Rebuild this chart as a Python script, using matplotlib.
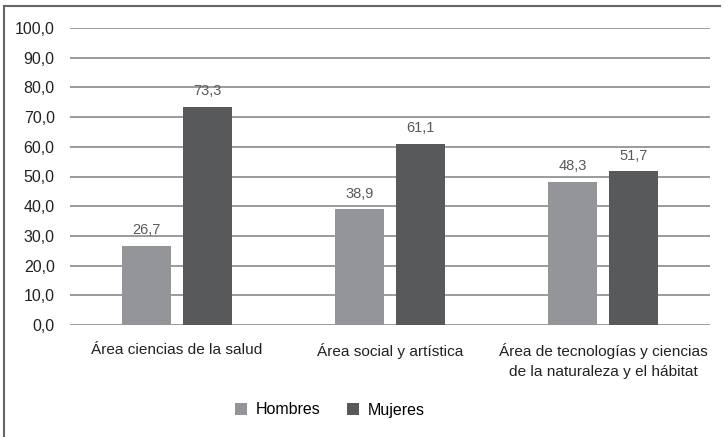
import matplotlib
matplotlib.use("Agg")
import matplotlib.pyplot as plt
import numpy as np
from matplotlib.lines import Line2D

categories = ["Área ciencias de la salud", "Área social y artística",
              "Área de tecnologías y ciencias\nde la naturaleza y el hábitat"]
hombres = [26.7, 38.9, 48.3]
mujeres = [73.3, 61.1, 51.7]
series_names = ["Hombres", "Mujeres"]
yticks = np.arange(0, 101, 10)

fam = ["Liberation Sans Narrow", "Liberation Sans", "DejaVu Sans"]
plt.rcParams["font.family"] = fam

fig = plt.figure(figsize=(7.25, 4.37), dpi=100)
ax = fig.add_axes([70/725, 1-325/437, 640/725, (325-28)/437])

x = np.arange(len(categories))
w = 0.23
off = 0.143
c_h = "#939598"
c_m = "#58595b"
b1 = ax.bar(x - off, hombres, w, color=c_h, label=series_names[0], zorder=3)
b2 = ax.bar(x + off, mujeres, w, color=c_m, label=series_names[1], zorder=3)
for bars, vals in ((b1, hombres), (b2, mujeres)):
    for r, v in zip(bars, vals):
        ax.text(r.get_x() + r.get_width()/2, v + 3.0, f"{v:.1f}".replace(".", ","),
                ha="center", va="bottom", fontsize=10.5, color="#595959")

ax.set_xlim(-0.5, 2.5)
ax.set_ylim(0, 100)
ax.set_yticks(yticks)
ax.set_yticklabels([f"{v:.1f}".replace(".", ",") for v in yticks], fontsize=11.5, color="#222222")
ax.set_xticks(x)
ax.set_xticklabels(categories, fontsize=11.1, color="#222222", linespacing=1.55)
ax.tick_params(axis="both", length=0)
ax.tick_params(axis="y", pad=11)
ax.tick_params(axis="x", pad=13)
ax.grid(axis="y", color="#8a8a8a", linewidth=1.2, zorder=0)
for s in ax.spines.values():
    s.set_visible(False)

fig.legend(handles=[b1, b2], labels=series_names, loc="center", bbox_to_anchor=(0.455, 1-410/437),
           ncol=2, frameon=False, fontsize=11.5, handlelength=0.75, handleheight=0.75,
           columnspacing=1.6, handletextpad=0.6)

fig.add_artist(Line2D([4/725, 720/725], [1-6/437, 1-6/437], color="#666666", linewidth=1.5))
fig.add_artist(Line2D([4/725, 4/725], [0, 1-6/437], color="#666666", linewidth=1.5))

fig.savefig("out.png", dpi=100, facecolor="white")
